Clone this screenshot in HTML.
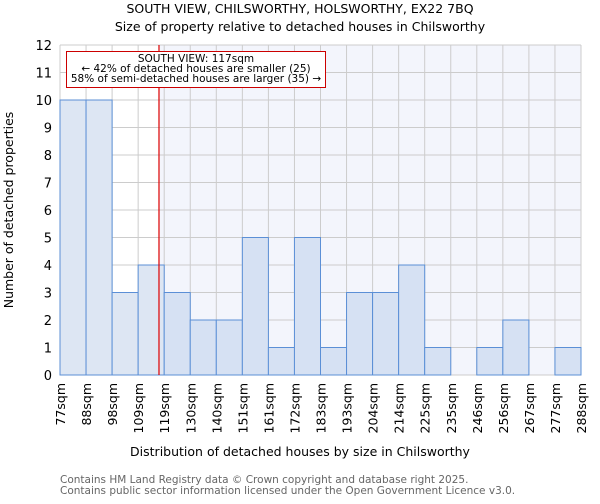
<!DOCTYPE html>
<html><head><meta charset="utf-8"><style>
body{margin:0;background:#fff;font-family:"DejaVu Sans","Liberation Sans",sans-serif}
</style></head><body>
<svg id="chart" width="600" height="500" xmlns="http://www.w3.org/2000/svg" font-family="DejaVu Sans, Liberation Sans, sans-serif">
<text x="300" y="13" text-anchor="middle" font-size="12.5">SOUTH VIEW, CHILSWORTHY, HOLSWORTHY, EX22 7BQ</text>
<text x="300" y="31" text-anchor="middle" font-size="12.5">Size of property relative to detached houses in Chilsworthy</text>
<g id="plot"></g>
<text x="300" y="456" text-anchor="middle" font-size="12.5">Distribution of detached houses by size in Chilsworthy</text>
<text transform="translate(13,210) rotate(-90)" text-anchor="middle" font-size="12.5">Number of detached properties</text>
<text x="60" y="483" font-size="10.5" fill="#666">Contains HM Land Registry data © Crown copyright and database right 2025.</text>
<text x="60" y="494" font-size="10.5" fill="#666">Contains public sector information licensed under the Open Government Licence v3.0.</text>
</svg>
<script>
const edgeLabels=["77sqm","88sqm","98sqm","109sqm","119sqm","130sqm","140sqm","151sqm","161sqm","172sqm","183sqm","193sqm","204sqm","214sqm","225sqm","235sqm","246sqm","256sqm","267sqm","277sqm","288sqm"];
const counts=[10,10,3,4,3,2,2,5,1,5,1,3,3,4,1,0,1,2,0,1];
const yTicks=[0,1,2,3,4,5,6,7,8,9,10,11,12];
const markerBin=3.8;
const NS="http://www.w3.org/2000/svg";
const g=document.getElementById('plot');
const L=60,R=581,T=45,B=375,yMax=12;
const bw=(R-L)/counts.length;
const xs=i=>L+i*bw;
const ys=v=>B-v*(B-T)/yMax;
function mk(t,a){const e=document.createElementNS(NS,t);for(const k in a)e.setAttribute(k,a[k]);g.appendChild(e);return e;}
const mx=xs(markerBin);
let e=mk('rect',{x:mx,y:T,width:R-mx,height:B-T,fill:'#f3f5fc'});


yTicks.forEach(v=>{
 let l=mk('line',{x1:L,x2:R,y1:ys(v),y2:ys(v),stroke:'#ccc','stroke-width':1});
 
 
 let t=mk('text',{x:L-8,y:ys(v)+5,'text-anchor':'end','font-size':13});
 t.textContent=v;
 
 
});
edgeLabels.forEach((s,i)=>{
 let l=mk('line',{x1:xs(i),x2:xs(i),y1:T,y2:B,stroke:'#ccc','stroke-width':1});
 
 
 let t=mk('text',{transform:`translate(${xs(i)+5},383) rotate(-90)`,'text-anchor':'end','font-size':12.5});
 t.textContent=s;
 
 
});
counts.forEach((c,i)=>{
 if(c<=0)return;
 let r=mk('rect',{x:xs(i),y:ys(c),width:bw,height:ys(0)-ys(c),fill:i<markerBin?'#dde6f3':'#d6e1f3',stroke:'#5b8fd6','stroke-width':1});
 
 
});
e=mk('line',{x1:mx,x2:mx,y1:T,y2:B,stroke:'#d00','stroke-width':1.2});


e=mk('rect',{x:66.5,y:51.5,width:259,height:36,fill:'#fff',stroke:'#c00','stroke-width':1});


["SOUTH VIEW: 117sqm","← 42% of detached houses are smaller (25)","58% of semi-detached houses are larger (35) →"].forEach((s,k)=>{
 let t=mk('text',{x:196,y:62+k*10,'text-anchor':'middle','font-size':10.5});
 t.textContent=s;
 
 
});
</script>
</body></html>
